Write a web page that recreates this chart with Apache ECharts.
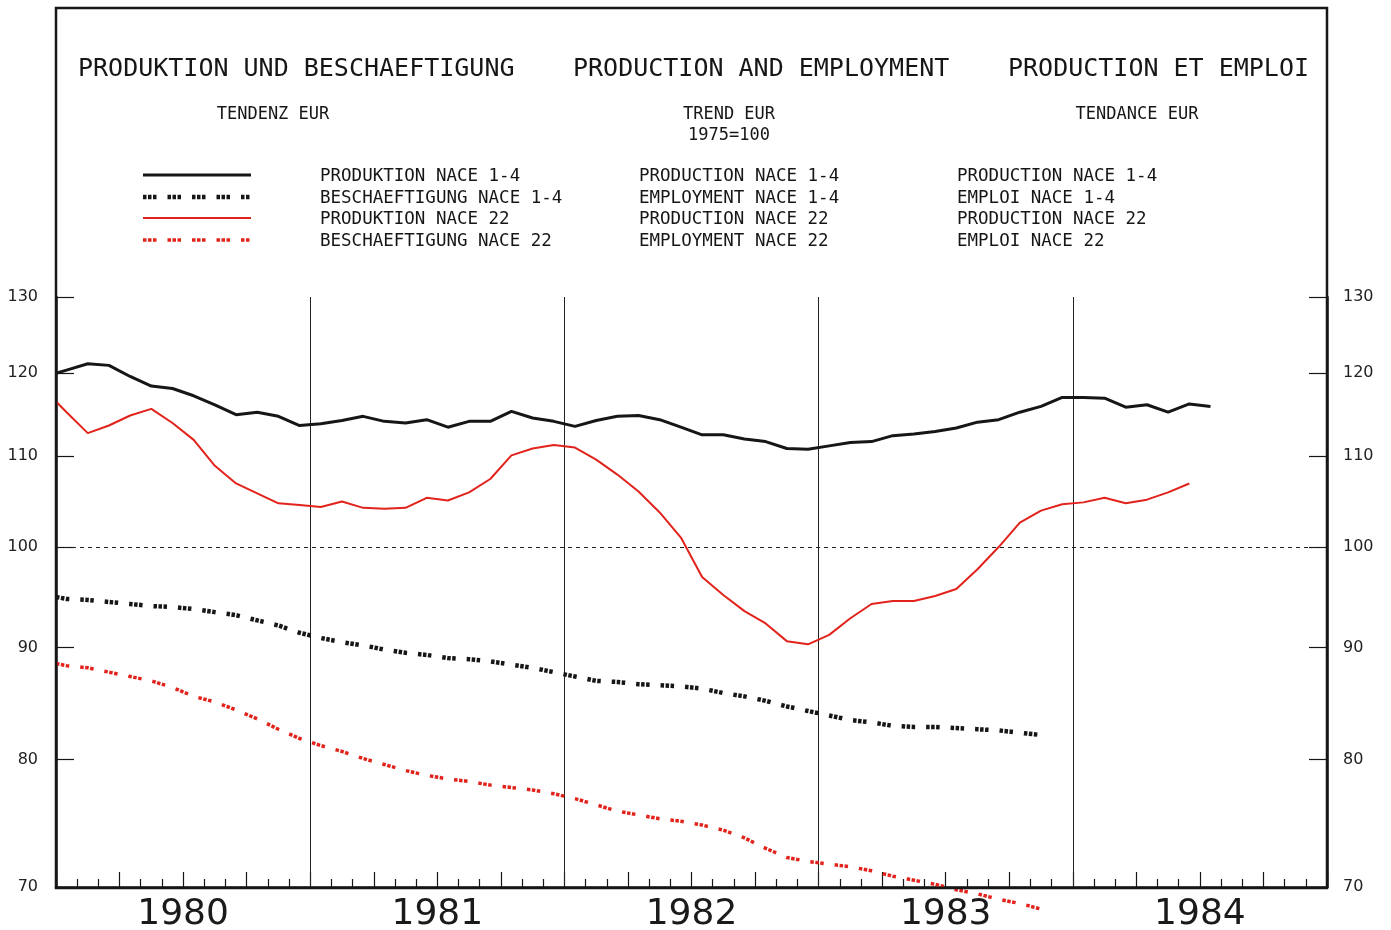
<!DOCTYPE html>
<html>
<head>
<meta charset="utf-8">
<title>Produktion und Beschaeftigung</title>
<script src="https://cdn.jsdelivr.net/npm/echarts@6/dist/echarts.min.js"></script>
<style>
  html, body { margin: 0; padding: 0; background: #fff; }
  #chart { width: 1391px; height: 930px; }
</style>
</head>
<body>
<div id="chart"></div>
<script>
// x = months since start of Jan 1980, each monthly value sits mid-month
const yearLabels = ['1980', '1981', '1982', '1983', '1984'];
const yTicks = [70, 80, 90, 100, 110, 120, 130];
const yearBreaks = [12, 24, 36, 48];

// value where each line meets the left frame
const edgeStart = [120.0, 94.9, 116.5, 88.5];

// Jan 1980 .. Jul 1984
const prodNace14 = [
  120.4, 121.2, 121.0, 119.6, 118.4, 118.1, 117.2, 116.1, 114.9, 115.2, 114.7, 113.6,
  113.8, 114.2, 114.7, 114.1, 113.9, 114.3, 113.4, 114.1, 114.1, 115.3, 114.5, 114.1,
  113.5, 114.2, 114.7, 114.8, 114.3, 113.4, 112.5, 112.5, 112.0, 111.7, 110.9, 110.8,
  111.2, 111.6, 111.7, 112.4, 112.6, 112.9, 113.3, 114.0, 114.3, 115.2, 115.9, 117.0,
  117.0, 116.9, 115.8, 116.1, 115.2, 116.2, 115.9
];
// Jan 1980 .. Nov 1983
const empNace14 = [
  94.7, 94.6, 94.4, 94.2, 94.0, 93.9, 93.7, 93.4, 93.1, 92.6, 92.1, 91.4,
  90.9, 90.5, 90.2, 89.8, 89.5, 89.3, 89.0, 88.9, 88.7, 88.4, 88.1, 87.7,
  87.3, 86.9, 86.8, 86.6, 86.5, 86.4, 86.2, 85.8, 85.5, 85.1, 84.6, 84.2,
  83.8, 83.4, 83.2, 82.9, 82.8, 82.8, 82.7, 82.6, 82.5, 82.3, 82.1
];
// Jan 1980 .. Jun 1984
const prodNace22 = [
  115.2, 112.7, 113.6, 114.8, 115.6, 113.9, 111.9, 108.9, 106.9, 105.8, 104.7, 104.5,
  104.3, 104.9, 104.2, 104.1, 104.2, 105.3, 105.0, 105.9, 107.4, 110.1, 110.9, 111.3,
  111.0, 109.6, 107.9, 106.0, 103.7, 101.0, 96.9, 95.1, 93.5, 92.3, 90.6, 90.3,
  91.2, 92.8, 94.2, 94.5, 94.5, 95.0, 95.7, 97.7, 100.0, 102.6, 103.9, 104.6,
  104.8, 105.3, 104.7, 105.1, 105.9, 106.9
];
// Jan 1980 .. Nov 1983
const empNace22 = [
  88.3, 88.1, 87.7, 87.3, 86.9, 86.3, 85.5, 85.0, 84.3, 83.5, 82.6, 81.8,
  81.2, 80.7, 80.1, 79.6, 79.1, 78.7, 78.4, 78.2, 77.9, 77.7, 77.5, 77.2,
  76.8, 76.3, 75.8, 75.5, 75.2, 75.0, 74.7, 74.3, 73.7, 72.9, 72.2, 71.9,
  71.7, 71.5, 71.2, 70.8, 70.5, 70.2, 69.8, 69.5, 69.1, 68.8, 68.4
];

const namesDE = ['PRODUKTION NACE 1-4', 'BESCHAEFTIGUNG NACE 1-4', 'PRODUKTION NACE 22', 'BESCHAEFTIGUNG NACE 22'];
const namesEN = ['PRODUCTION NACE 1-4', 'EMPLOYMENT NACE 1-4', 'PRODUCTION NACE 22', 'EMPLOYMENT NACE 22'];
const namesFR = ['PRODUCTION NACE 1-4', 'EMPLOI NACE 1-4', 'PRODUCTION NACE 22', 'EMPLOI NACE 22'];

const RED = '#e2231c';
const INK = '#161616';
const MONO = '"DejaVu Sans Mono", monospace';

const lineStyles = [
  { color: INK, width: 3 },
  { color: INK, width: 4.5, type: [3.5, 1.5, 3.5, 1.5, 3.5, 11], cap: 'butt' },
  { color: RED, width: 2 },
  { color: RED, width: 3.5, type: [3.5, 1.5, 3.5, 1.5, 3.5, 11], cap: 'butt' }
];

function toPoints(edge, values) {
  const pts = [[0, edge]];
  values.forEach((v, i) => pts.push([i + 0.5, v]));
  return pts;
}

const chart = echarts.init(document.getElementById('chart'), null, { renderer: 'canvas' });

const yAxisBase = {
  type: 'log',
  logBase: 10,
  min: 70,
  max: 130,
  axisLine: { show: true, lineStyle: { color: INK, width: 2.5 } },
  axisTick: { show: true, inside: true, length: 18, customValues: yTicks, lineStyle: { color: INK, width: 1.2 } },
  axisLabel: { customValues: yTicks, fontSize: 16, fontFamily: 'DejaVu Sans', color: '#222' },
  splitLine: { show: false },
  minorTick: { show: false },
  minorSplitLine: { show: false }
};

const allSeries = [prodNace14, empNace14, prodNace22, empNace22].map((vals, i) => ({
  name: namesDE[i],
  type: 'line',
  data: toPoints(edgeStart[i], vals),
  symbol: 'none',
  showSymbol: false,
  clip: i !== 3,
  lineStyle: lineStyles[i],
  z: 5
}));

allSeries[0].markLine = {
  silent: true,
  symbol: 'none',
  label: { show: false },
  lineStyle: { color: '#222', width: 1, type: 'solid' },
  data: yearBreaks.map(m => ({ xAxis: m })).concat([
    { yAxis: 100, lineStyle: { color: '#222', width: 1, type: [4, 4] } }
  ])
};

// legend samples and the three-language header
const graphics = [];
const titleRow = [
  { text: 'PRODUKTION UND BESCHAEFTIGUNG', x: 78 },
  { text: 'PRODUCTION AND EMPLOYMENT', x: 573 },
  { text: 'PRODUCTION ET EMPLOI', x: 1008 }
];
titleRow.forEach(t => graphics.push({
  type: 'text', silent: true,
  style: { text: t.text, x: t.x, y: 69, font: '25px ' + MONO, fill: INK, verticalAlign: 'middle' }
}));
[
  { text: 'TENDENZ EUR', x: 273, y: 115 },
  { text: 'TREND EUR', x: 729, y: 115 },
  { text: '1975=100', x: 729, y: 136 },
  { text: 'TENDANCE EUR', x: 1137, y: 115 }
].forEach(t => graphics.push({
  type: 'text', silent: true,
  style: { text: t.text, x: t.x, y: t.y, font: '17px ' + MONO, fill: INK, align: 'center', verticalAlign: 'middle' }
}));
const rowY = [175, 197, 218, 240];
[namesDE, namesEN, namesFR].forEach((col, c) => {
  const x = [320, 639, 957][c];
  col.forEach((txt, r) => graphics.push({
    type: 'text', silent: true,
    style: { text: txt, x: x, y: rowY[r] + 1, font: '17.5px ' + MONO, fill: INK, verticalAlign: 'middle' }
  }));
});
rowY.forEach((y, r) => graphics.push({
  type: 'line', silent: true,
  shape: { x1: 143, y1: y, x2: 251, y2: y },
  style: {
    stroke: lineStyles[r].color,
    lineWidth: lineStyles[r].width,
    lineDash: lineStyles[r].type || null,
    lineCap: 'butt'
  }
}));
graphics.push({
  type: 'rect', silent: true, z: 100,
  shape: { x: 56, y: 8, width: 1271, height: 880 },
  style: { fill: 'none', stroke: INK, lineWidth: 2.5 }
});

chart.setOption({
  animation: false,
  backgroundColor: '#ffffff',
  grid: { left: 56, right: 64, top: 297, bottom: 43, containLabel: false, outerBoundsMode: 'none' },
  xAxis: {
    type: 'value',
    min: 0,
    max: 60,
    interval: 3,
    axisLine: { show: true, lineStyle: { color: INK, width: 2.5 } },
    axisTick: { show: true, inside: true, length: 15, lineStyle: { color: INK, width: 1.2 } },
    minorTick: { show: true, splitNumber: 3, length: 8, lineStyle: { color: INK, width: 1.2 } },
    axisLabel: {
      customValues: yearBreaks.map(m => m - 6).concat([54]),
      formatter: v => yearLabels[Math.floor(v / 12)],
      fontSize: 36,
      fontFamily: 'DejaVu Sans',
      color: '#1a1a1a',
      margin: 10
    },
    splitLine: { show: false }
  },
  yAxis: [
    Object.assign({}, yAxisBase, { position: 'left', axisLabel: Object.assign({}, yAxisBase.axisLabel, { margin: 18 }) }),
    Object.assign({}, yAxisBase, { position: 'right', axisLabel: Object.assign({}, yAxisBase.axisLabel, { margin: 16 }) })
  ],
  series: allSeries,
  graphic: graphics
});
</script>
</body>
</html>
